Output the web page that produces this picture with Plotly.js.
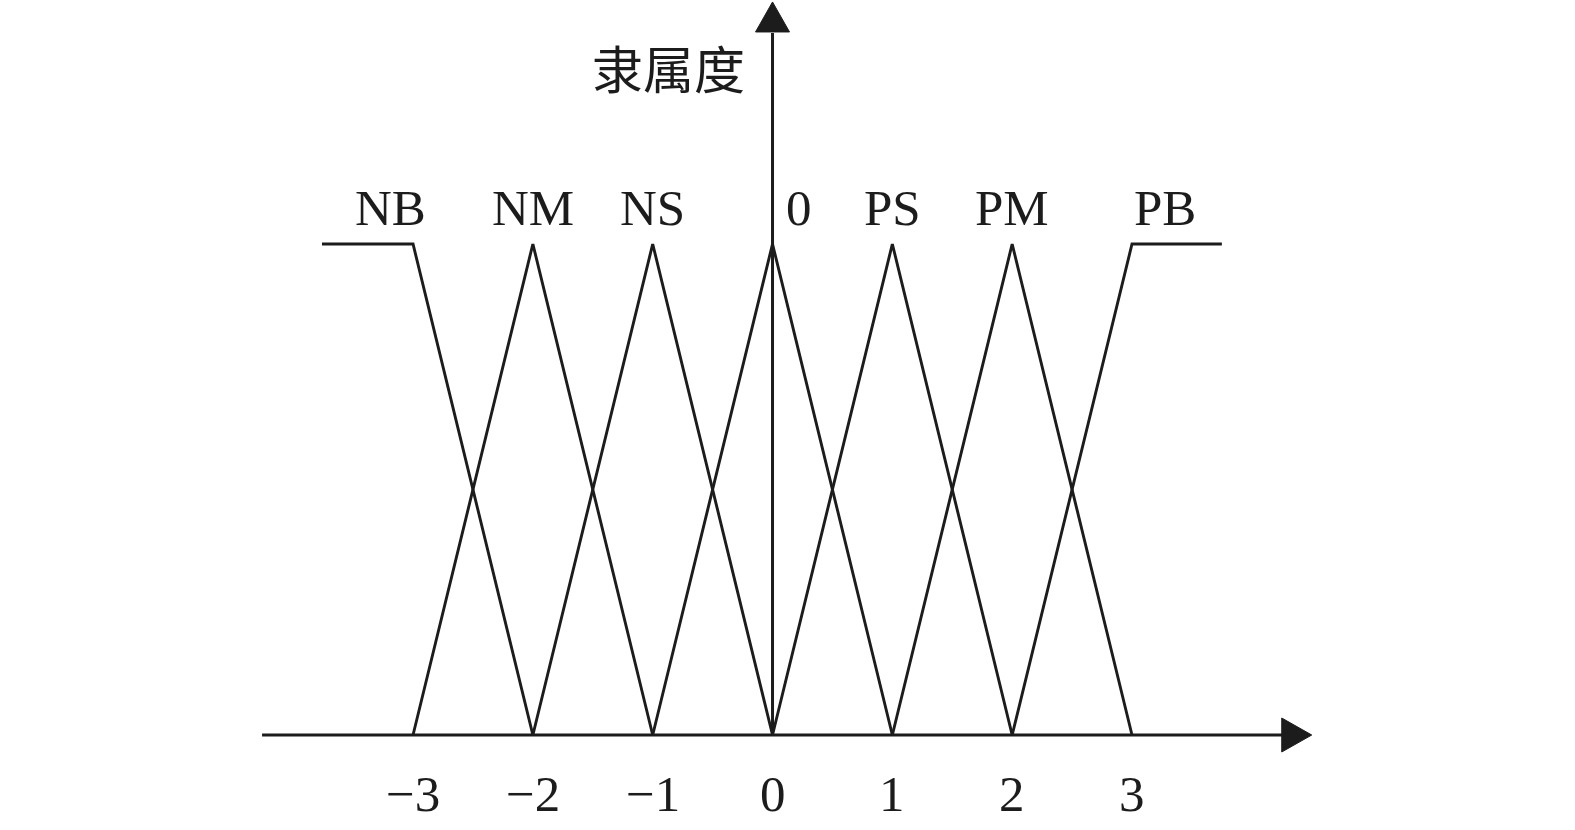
<!DOCTYPE html>
<html>
<head>
<meta charset="utf-8">
<script src="https://cdn.plot.ly/plotly-3.0.1.min.js"></script>
<style>html,body{margin:0;padding:0;background:#fff;}#chart{width:1575px;height:830px;}</style>
</head>
<body>
<div id="chart"></div>
<script>
// Fuzzy set labels and their centre values
const categories = ['NB', 'NM', 'NS', '0', 'PS', 'PM', 'PB'];
const centers = [-3, -2, -1, 0, 1, 2, 3];

// Membership functions (x breakpoints, membership values)
const NB_x = [-3.76, -3, -2];  const NB_y = [1, 1, 0];
const NM_x = [-3, -2, -1];     const NM_y = [0, 1, 0];
const NS_x = [-2, -1, 0];      const NS_y = [0, 1, 0];
const ZO_x = [-1, 0, 1];       const ZO_y = [0, 1, 0];
const PS_x = [0, 1, 2];        const PS_y = [0, 1, 0];
const PM_x = [1, 2, 3];        const PM_y = [0, 1, 0];
const PB_x = [2, 3, 3.75];     const PB_y = [0, 1, 1];

// Axis tick labels
const tickVals = [-3, -2, -1, 0, 1, 2, 3];
const tickText = ['\u22123', '\u22122', '\u22121', '0', '1', '2', '3'];

const yTitle = '隶属度';

const INK = '#1c1c1c';
const serif = '"Liberation Serif", "Times New Roman", serif';
const cjk = '"Noto Sans CJK SC", sans-serif';

const setsX = [NB_x, NM_x, NS_x, ZO_x, PS_x, PM_x, PB_x];
const setsY = [NB_y, NM_y, NS_y, ZO_y, PS_y, PM_y, PB_y];

const traces = setsX.map((xs, i) => ({
  type: 'scatter', mode: 'lines', x: xs, y: setsY[i],
  line: {color: INK, width: 2.9}, hoverinfo: 'skip', showlegend: false,
  cliponaxis: false
}));

// axis extents (layout decoration)
const xAxisStart = -4.26, xAxisEnd = 4.44, xArrowTip = 4.50;
const yAxisEnd = 1.43, yArrowTip = 1.493;

const shapes = [
  {type: 'line', xref: 'x', yref: 'y', x0: xAxisStart, x1: xAxisEnd, y0: 0, y1: 0,
   line: {color: INK, width: 3}, layer: 'below'},
  {type: 'line', xref: 'x', yref: 'y', x0: 0, x1: 0, y0: 0, y1: yAxisEnd,
   line: {color: INK, width: 3}, layer: 'below'},
  {type: 'path', xref: 'x', yref: 'y', xsizemode: 'pixel', ysizemode: 'pixel',
   xanchor: xArrowTip, yanchor: 0, path: 'M -30 17 L 0 0 L -30 -17 Z',
   fillcolor: INK, line: {color: INK, width: 1}},
  {type: 'path', xref: 'x', yref: 'y', xsizemode: 'pixel', ysizemode: 'pixel',
   xanchor: 0, yanchor: yArrowTip, path: 'M -17 -30 L 0 0 L 17 -30 Z',
   fillcolor: INK, line: {color: INK, width: 1}}
];

const labelShift = {NB: -23, '0': 26, PB: 33};
const annotations = [];
categories.forEach((c, i) => {
  annotations.push({
    x: centers[i], y: 1, xref: 'x', yref: 'y', text: c, showarrow: false,
    xanchor: 'center', yanchor: 'middle', xshift: labelShift[c] || 0, yshift: 36,
    font: {family: serif, size: 51, color: INK}
  });
});
tickVals.forEach((v, i) => {
  annotations.push({
    x: v, y: 0, xref: 'x', yref: 'y', text: tickText[i], showarrow: false,
    xanchor: 'center', yanchor: 'middle', yshift: -59,
    font: {family: serif, size: 51, color: INK}
  });
});
annotations.push({
  x: 0, y: 1.354, xref: 'x', yref: 'y', text: yTitle, showarrow: false,
  xanchor: 'right', yanchor: 'middle', xshift: -26, yshift: 3,
  font: {family: cjk, size: 51, color: INK}
});

const layout = {
  width: 1575, height: 830,
  margin: {l: 0, r: 0, t: 0, b: 0},
  paper_bgcolor: '#ffffff', plot_bgcolor: '#ffffff',
  xaxis: {range: [-6.447, 6.697], visible: false, fixedrange: true},
  yaxis: {range: [-0.1935, 1.497], visible: false, fixedrange: true},
  shapes: shapes,
  annotations: annotations,
  showlegend: false
};

Plotly.newPlot('chart', traces, layout, {staticPlot: true, displayModeBar: false});
</script>
</body>
</html>
